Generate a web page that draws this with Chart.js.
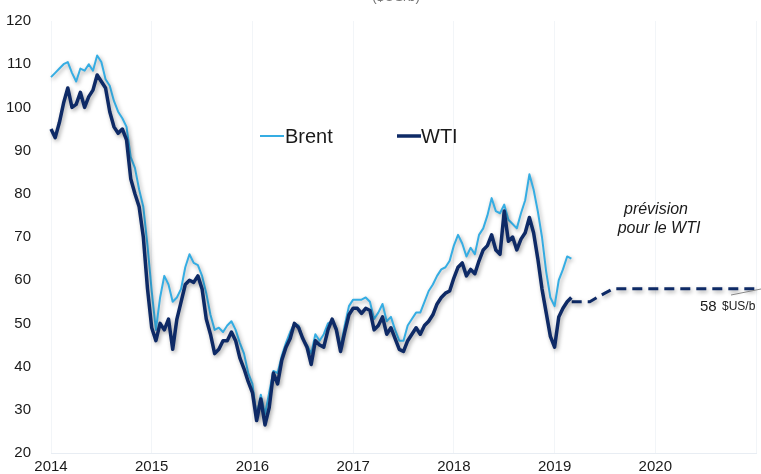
<!DOCTYPE html>
<html lang="fr">
<head>
<meta charset="utf-8">
<title>Brent et WTI</title>
<script src="https://cdn.jsdelivr.net/npm/chart.js@4"></script>
<style>
  html, body { margin: 0; padding: 0; background: #fff; }
  #wrap { width: 761px; height: 474px; position: relative; }
</style>
</head>
<body>
<div id="wrap"><canvas id="myChart"></canvas></div>
<script>
// semi-monthly closes starting January 2014 (24 points a year)
const startYear = 2014;
const perYear = 24;

const brent = [
    107, 108, 109, 110, 110.5, 108, 106, 109, 108.5, 110, 108.5, 112,
    110.5, 106.5, 105, 101.5, 99, 97.5, 95.5, 88.5, 86, 81, 77, 68,
    57.5, 48.5, 56, 61, 59, 55, 56, 58, 63, 66, 64, 63.5,
    61, 57, 52, 48.5, 49, 48, 49.5, 50.5, 48.5, 45.5, 43, 38.5,
    36, 28.5, 33.5, 29, 34, 39, 38.5, 42.5, 45.5, 48, 50, 49.5,
    46.5, 45, 43, 47.5, 46, 47.5, 50, 50.5, 49, 44.5, 49.5, 54,
    55.5, 55.5, 55.5, 56, 55, 51, 52.5, 54.5, 50.5, 51.5, 48.5, 46,
    46, 49.5, 51, 52.5, 52.5, 55, 57.5, 59, 61, 62.5, 63, 64.5,
    68, 70.5, 68.5, 65.5, 67.5, 66, 70.5, 72, 75, 79, 76, 75.5,
    77.5, 74, 73, 72, 75.5, 78.5, 84.5, 81, 76, 70, 62, 56,
    54, 60, 62.5, 65.5, 65
];

const wti = [
    95, 93, 96.5, 101, 104.5, 100, 100.7, 103.5, 100, 102.5, 104, 107.5,
    106, 104.5, 99, 95.5, 94, 95, 92.5, 83.5, 80, 77, 70, 58,
    49, 46, 50, 48.5, 51, 44, 51, 55, 59, 60, 59.5, 61,
    58, 51, 47.5, 43, 44, 46, 46, 48, 46, 42, 39.5, 36.5,
    34, 27.5, 32.5, 26.5, 30.5, 38.5, 36, 41.5, 44.5, 46.5, 50, 49,
    46.5, 44.5, 40.5, 46, 45, 44.5, 48.5, 51, 48.5, 43.5, 48, 52,
    53.5, 53.5, 52.3, 53.5, 53, 48.5, 49.5, 51.5, 47.5, 49, 46.5, 44,
    43.5, 46, 47.5, 49, 47.5, 49.5, 50.5, 52, 54.5, 56, 57, 57.5,
    60.5, 63, 64, 61, 62.5, 61.5, 64.5, 67, 68, 70.5, 67, 66,
    76, 69, 70, 67, 69.5, 71, 74.5, 71, 65, 58, 52.5, 47,
    44.5, 51.5, 53.5, 55, 56
];

// WTI forecast path (year, $US/b)
const forecastYears = [2019.17, 2019.35, 2019.42, 2019.5, 2019.58, 2021];
const forecastWti = [55, 55, 56, 57, 58, 58];

const yearTicks = [2014, 2015, 2016, 2017, 2018, 2019, 2020];

const BRENT_COLOR = '#35ade3';
const WTI_COLOR = '#0e2a66';

function toPoints(values) {
    return values.map((v, i) => ({ x: startYear + i / perYear, y: v }));
}

// soft drop shadow under the price lines
const lineShadow = {
    id: 'lineShadow',
    beforeDatasetsDraw(chart) {
        const ctx = chart.ctx;
        ctx.save();
        ctx.shadowColor = 'rgba(0, 0, 0, 0.35)';
        ctx.shadowBlur = 4;
        ctx.shadowOffsetX = 1.5;
        ctx.shadowOffsetY = 2;
    },
    afterDatasetsDraw(chart) {
        chart.ctx.restore();
    }
};

// legend and notes placed inside the plot
const notes = {
    id: 'notes',
    afterDraw(chart) {
        const ctx = chart.ctx;
        ctx.save();

        // unit line, mostly above the top edge
        ctx.fillStyle = '#777';
        ctx.font = '14px Arial, "Liberation Sans", sans-serif';
        ctx.textAlign = 'center';
        ctx.textBaseline = 'alphabetic';
        ctx.fillText('($US/b)', 396, 1);

        // legend
        ctx.lineCap = 'butt';
        ctx.strokeStyle = BRENT_COLOR;
        ctx.lineWidth = 2;
        ctx.beginPath();
        ctx.moveTo(260, 136);
        ctx.lineTo(284, 136);
        ctx.stroke();
        ctx.strokeStyle = WTI_COLOR;
        ctx.lineWidth = 3.5;
        ctx.beginPath();
        ctx.moveTo(397, 136);
        ctx.lineTo(421, 136);
        ctx.stroke();

        ctx.fillStyle = '#1a1a1a';
        ctx.font = '20px Arial, "Liberation Sans", sans-serif';
        ctx.textAlign = 'left';
        ctx.textBaseline = 'middle';
        ctx.fillText('Brent', 285, 137);
        ctx.fillText('WTI', 421, 137);

        // forecast note
        ctx.font = 'italic 16px Arial, "Liberation Sans", sans-serif';
        ctx.textAlign = 'center';
        ctx.fillText('prévision', 656, 210);
        ctx.fillText('pour le WTI', 659, 229);

        // 58 $US/b label with leader line
        ctx.strokeStyle = '#888';
        ctx.lineWidth = 1;
        ctx.beginPath();
        ctx.moveTo(731, 295);
        ctx.lineTo(761, 289);
        ctx.stroke();

        ctx.textAlign = 'left';
        ctx.font = '15px Arial, "Liberation Sans", sans-serif';
        ctx.fillText('58', 700, 307);
        ctx.font = '12px Arial, "Liberation Sans", sans-serif';
        ctx.fillText('$US/b', 722, 307);

        ctx.restore();
    }
};

const chartElement = document.getElementById('myChart');
new Chart(chartElement.getContext('2d'), {
    type: 'line',
    data: {
        datasets: [
            {
                label: 'WTI',
                data: toPoints(wti),
                borderColor: WTI_COLOR,
                borderWidth: 3.5,
                order: 0
            },
            {
                label: 'Prévision WTI',
                data: forecastYears.map((x, i) => ({ x: x, y: forecastWti[i] })),
                borderColor: WTI_COLOR,
                borderWidth: 3,
                borderDash: [10, 6],
                order: 1
            },
            {
                label: 'Brent',
                data: toPoints(brent),
                borderColor: BRENT_COLOR,
                borderWidth: 2,
                order: 2
            }
        ]
    },
    options: {
        responsive: true,
        maintainAspectRatio: false,
        animation: false,
        clip: false,
        layout: { padding: { top: 18, right: 0, bottom: 0, left: 0 } },
        elements: {
            point: { radius: 0 },
            line: { tension: 0, borderJoinStyle: 'round' }
        },
        plugins: {
            legend: { display: false },
            tooltip: { enabled: false }
        },
        scales: {
            x: {
                type: 'linear',
                min: 2014,
                max: 2021,
                afterBuildTicks(scale) {
                    scale.ticks = yearTicks.concat([2021]).map(v => ({ value: v }));
                },
                afterFit(scale) { scale.height = 21; },
                ticks: {
                    autoSkip: false,
                    maxRotation: 0,
                    padding: 5,
                    color: '#1a1a1a',
                    font: { family: 'Arial, "Liberation Sans", sans-serif', size: 15 },
                    callback: v => (yearTicks.includes(v) ? String(v) : '')
                },
                grid: {
                    color: 'rgba(205, 214, 228, 0.25)',
                    drawTicks: false
                },
                border: { color: 'rgba(205, 214, 228, 0.45)' }
            },
            y: {
                min: 20,
                max: 120,
                afterFit(scale) { scale.width = 51; },
                ticks: {
                    stepSize: 10,
                    padding: 12,
                    color: '#1a1a1a',
                    font: { family: 'Arial, "Liberation Sans", sans-serif', size: 15 }
                },
                grid: { display: false },
                border: { display: false }
            }
        }
    },
    plugins: [lineShadow, notes]
});
</script>
</body>
</html>
